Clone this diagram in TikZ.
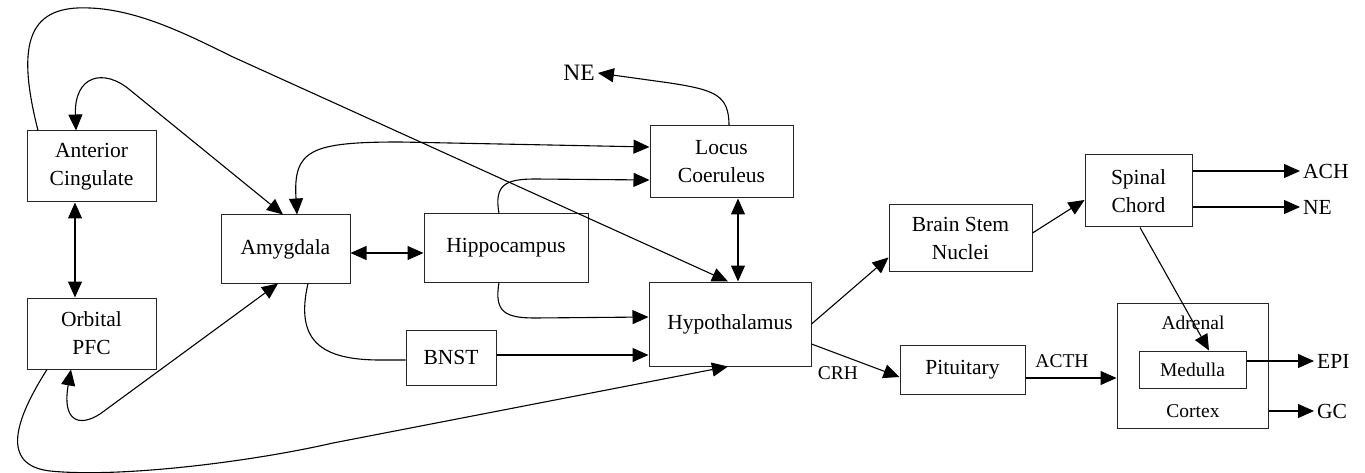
\documentclass[tikz,border=0pt]{standalone}
\usepackage{fontspec}
\setmainfont{Liberation Serif}
\usetikzlibrary{arrows.meta}
\begin{document}
\begin{tikzpicture}[x=1pt,y=-1pt,
 box/.style={draw=black!85, line width=1pt, inner sep=0pt, align=center, font=\fontsize{21.5}{28}\selectfont},
 lab/.style={inner sep=3pt, font=\fontsize{21.5}{25}\selectfont},
 smalllab/.style={inner sep=0pt, font=\fontsize{19.5}{23}\selectfont},
 conn/.style={line width=1.1pt, draw=black},
 tip/.style={-{Triangle[length=16pt,width=14pt]}},
 tips/.style={{Triangle[length=16pt,width=14pt]}-{Triangle[length=16pt,width=14pt]}}
]
\useasboundingbox (0,0) rectangle (1365,473);
% boxes
\node[box, minimum width=129pt, minimum height=71pt] (ac) at (91.5,166.5) {Anterior\\Cingulate};
\node[box, minimum width=129pt, minimum height=71pt] (opfc) at (91.5,333.5) {Orbital\\PFC};
\node[box, minimum width=129pt, minimum height=68pt] (amy) at (285.5,249) {Amygdala};
\node[box, minimum width=164pt, minimum height=68pt] (hip) at (506,248) {Hippocampus};
\node[box, minimum width=143pt, minimum height=72pt] (lc) at (721.5,162) {Locus\\Coeruleus};
\node[box, minimum width=162pt, minimum height=84pt] (hyp) at (730,324) {Hypothalamus};
\node[box, minimum width=90pt, minimum height=55pt] (bnst) at (451,357.5) {BNST};
\node[box, minimum width=143pt, minimum height=66pt] (bsn) at (960.5,238) {Brain Stem\\Nuclei};
\node[box, minimum width=107pt, minimum height=72pt] (sc) at (1138.5,191) {Spinal\\Chord};
\node[box, minimum width=125pt, minimum height=49pt] (pit) at (962.5,369.5) {Pituitary};
\node[box, minimum width=151pt, minimum height=125pt] (adr) at (1192.5,365.5) {};
\node[box, minimum width=107pt, minimum height=37pt, font=\fontsize{19.5}{23}\selectfont] (med) at (1192.5,369.5) {Medulla};
\node[smalllab] (adrtxt) at (1193,323) {Adrenal};
\node[smalllab] (cortxt) at (1193,411) {Cortex};
% labels
\node[lab, font=\fontsize{23.5}{27}\selectfont] (ne1) at (579,73) {NE};
\node[lab, anchor=west] (ach) at (1300,171) {ACH};
\node[lab, anchor=west] (ne2) at (1300,207) {NE};
\node[lab, anchor=west] (epi) at (1314,361) {EPI};
\node[lab, anchor=west] (gc) at (1314,411) {GC};
\node[smalllab] (acth) at (1062,361) {ACTH};
\node[smalllab] (crh) at (838,373) {CRH};
% straight connectors
\draw[conn, tips] ([xshift=-16.5pt]ac.south) -- ([xshift=-16.5pt]opfc.north);
\draw[conn, tips] ([yshift=-4pt]amy.east) -- ([yshift=-4pt]amy.east -| hip.west);
\draw[conn, tips] ([xshift=16.5pt]lc.south) -- ([xshift=16.5pt]lc.south |- hyp.north);
\draw[conn, tip] ([yshift=2.5pt]bnst.east) -- ([yshift=2.5pt]bnst.east -| hyp.west);
\draw[conn, tip] (hyp.east) -- ([yshift=14pt]bsn.south west);
\draw[conn, tip] ([yshift=5pt]bsn.east) -- ([yshift=-9pt]sc.west);
\draw[conn, tip] ([yshift=-20pt]hyp.east) -- ([yshift=-7.5pt]pit.west);
\draw[conn, tip] ([yshift=-8.5pt]pit.east) -- ([yshift=-8.5pt]pit.east -| adr.west);
\draw[conn, tip] ([xshift=1.5pt]sc.south) -- ([xshift=16.5pt]med.north);
\draw[conn, tip] ([yshift=20pt]sc.east) -- (ach.west);
\draw[conn, tip] ([yshift=-16pt]sc.east) -- (ne2.west);
\draw[conn, tip] ([yshift=8.5pt]med.east) -- (epi.west);
\draw[conn, tip] ([yshift=-45.5pt]adr.east) -- (gc.west);
% curved connectors
\draw[conn, tip] ([xshift=7.5pt]lc.north) .. controls (729,95) and (715,90) .. (670,83) -- (ne1.east);
\draw[conn, tips] ([xshift=-15.5pt]ac.north) .. controls (74,75) and (104,68) .. (130,90) -- ([xshift=-2.5pt]amy.north);
\draw[conn, tips] ([xshift=11.5pt]amy.north) .. controls (293,150) and (310,142) .. (400,142) -- ([yshift=15pt]lc.west);
\draw[conn, tip] ([xshift=-7pt]hip.north) .. controls (494,185) and (505,179) .. (535,179) -- ([yshift=-18pt]lc.west);
\draw[conn, tip] ([xshift=-7pt]hip.south) .. controls (494,312) and (505,318) .. (535,318) -- ([yshift=7pt]hyp.west);
\draw[conn] ([xshift=22.5pt]amy.south) .. controls (295,340) and (320,360) .. (380,360) -- ([yshift=-2.5pt]bnst.west);
\draw[conn, tips] ([xshift=-20.5pt]opfc.south) .. controls (62,420) and (78,428) .. (100,414) -- ([xshift=-7.5pt]amy.south);
\draw[conn, tip] ([xshift=-53.5pt]ac.north) .. controls (15,40) and (30,5) .. (90,8) .. controls (140,10) and (190,36) .. (233,57) -- ([xshift=-2pt]hyp.north);
\draw[conn, tip] ([xshift=-44.5pt]opfc.south) .. controls (15,420) and (0,465) .. (50,471) .. controls (120,478) and (250,462) .. (333,443) -- ([xshift=-2pt]hyp.south);
\end{tikzpicture}
\end{document}
